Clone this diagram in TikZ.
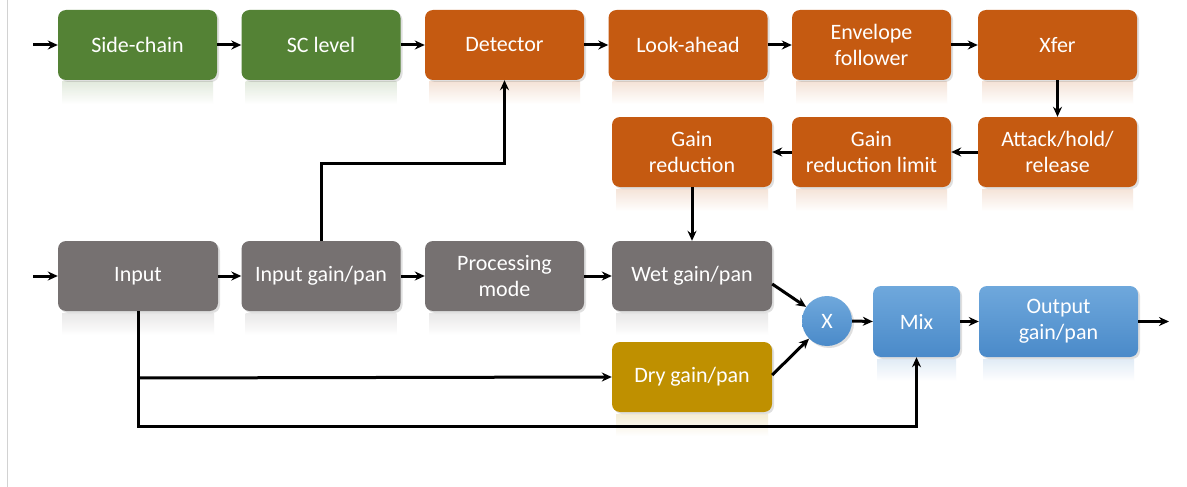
\documentclass[tikz,border=0pt]{standalone}
\usepackage{fontspec}
\setmainfont{Carlito}
\usetikzlibrary{arrows.meta,shadows,calc}
\definecolor{cgreen}{HTML}{548235}
\definecolor{corange}{HTML}{C55A11}
\definecolor{cgray}{HTML}{767171}
\definecolor{cmust}{HTML}{BF9000}
\definecolor{cbluet}{HTML}{6FA8DC}
\definecolor{cblueb}{HTML}{4A8AC9}
\tikzset{
  blk/.style={rounded corners=8pt, minimum width=159pt, minimum height=70pt,
    text=white, align=center, inner sep=2pt,
    font=\fontsize{22}{25.5}\selectfont,
    drop shadow={opacity=0.25, shadow xshift=2pt, shadow yshift=-2pt}},
  gbox/.style={blk, fill=cgreen},
  obox/.style={blk, fill=corange},
  ybox/.style={blk, fill=cgray},
  mbox/.style={blk, fill=cmust},
  bbox/.style={blk, top color=cbluet, bottom color=cblueb},
  arr/.style={-{Stealth[length=10pt,width=9pt]}, line width=3pt},
}
\begin{document}
\begin{tikzpicture}[x=1pt,y=-1pt]
\useasboundingbox (0,0) rectangle (1187,487);
\fill[white] (0,0) rectangle (1187,487);
\draw[gray!35, line width=1pt] (7,0) -- (7,487);

% reflections
\foreach \x/\y/\w/\c in {137.5/82/159/cgreen,321/82/159/cgreen,504.5/82/159/corange,688/82/159/corange,871.5/82/159/corange,1057.5/82/159/corange,
 692/189/160/corange,871.5/189/159/corange,1057.5/189/159/corange,
 138/313/160/cgray,321/313/159/cgray,504.5/313/159/cgray,692/313/160/cgray,
 916.5/359/87/cblueb,1058.5/359/159/cblueb,692/414/160/cmust}{
  \shade[top color=\c!18!white, bottom color=white, opacity=0.9] (\x-\w/2+4,\y) rectangle (\x+\w/2-4,\y+22);
}

\node[gbox] (sc)   at (137.5,45) {Side-chain};
\node[gbox] (scl)  at (321,45) {SC level};
\node[obox] (det)  at (504.5,45) {Detector};
\node[obox] (la)   at (688,45) {Look-ahead};
\node[obox] (env)  at (871.5,45) {Envelope\\follower};
\node[obox] (xfer) at (1057.5,45) {Xfer};

\node[obox, minimum width=160pt] (gr)  at (692,152) {Gain\\reduction};
\node[obox] (grl) at (871.5,152) {Gain\\reduction limit};
\node[obox] (ahr) at (1057.5,152) {Attack/hold/\\release};

\node[ybox, minimum width=160pt] (in)  at (138,276) {Input};
\node[ybox] (igp) at (321,276) {Input gain/pan};
\node[ybox] (pm)  at (504.5,276) {Processing\\mode};
\node[ybox, minimum width=160pt] (wet) at (692,276) {Wet gain/pan};

\node[mbox, minimum width=160pt] (dry) at (692,377) {Dry gain/pan};

\node[circle, minimum size=50pt, inner sep=0pt, top color=cbluet, bottom color=cblueb,
  text=white, font=\fontsize{22}{25.5}\selectfont,
  drop shadow={opacity=0.25, shadow xshift=2pt, shadow yshift=-2pt}] (X) at (827,321) {X};
\node[bbox, minimum width=87pt, minimum height=71pt] (mix) at (916.5,321.5) {Mix};
\node[bbox, minimum height=71pt] (out) at (1058.5,321.5) {Output\\gain/pan};

\coordinate (i1) at (33,45);
\coordinate (i2) at (33,276);
\coordinate (o1) at (1169,321.5);

\draw[arr] (i1) -- (sc.west);
\draw[arr] (sc.east) -- (scl.west);
\draw[arr] (scl.east) -- (det.west);
\draw[arr] (det.east) -- (la.west);
\draw[arr] (la.east) -- (env.west);
\draw[arr] (env.east) -- (xfer.west);
\draw[arr] (xfer.south) -- (ahr.north);
\draw[arr] (ahr.west) -- (grl.east);
\draw[arr] (grl.west) -- (gr.east);
\draw[arr] (gr.south) -- (wet.north);

\draw[arr] (i2) -- (in.west);
\draw[arr] (in.east) -- (igp.west);
\draw[arr] (igp.east) -- (pm.west);
\draw[arr] (pm.east) -- (wet.west);
\draw[arr] (igp.north) -- (igp.north |- 0,163) -| (det.south);

\draw[arr] ([yshift=-8pt]wet.east) -- (X);
\draw[arr] ([yshift=2pt]dry.east) -- (X);
\draw[arr] (X.east) -- (mix.west);
\draw[arr] (mix.east) -- (out.west);
\draw[arr] (out.east) -- (o1);

\draw[arr] (in.south) -- (in.south |- 0,426) -| (mix.south);
\draw[arr] (in.south |- 0,378) -- (dry.west);
\end{tikzpicture}
\end{document}
